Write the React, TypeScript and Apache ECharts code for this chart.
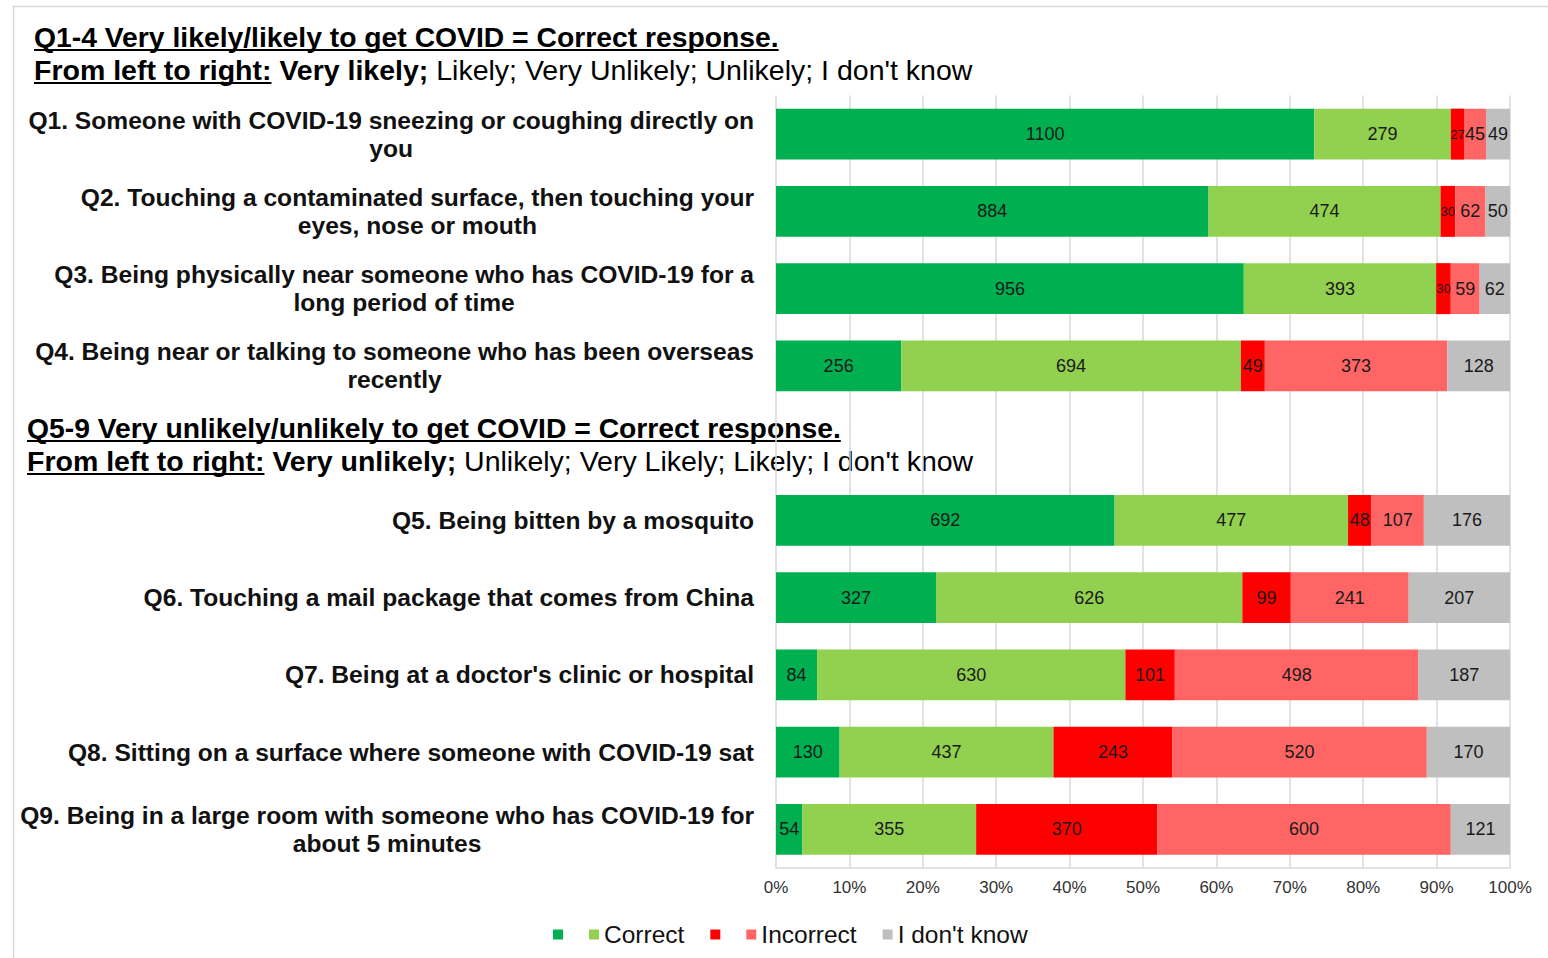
import React, { useEffect, useRef } from "react";
import * as echarts from "echarts";

const categories: string[] = [
  "Q1. Someone with COVID-19 sneezing or coughing directly on\nyou",
  "Q2. Touching a contaminated surface, then touching your\neyes, nose or mouth",
  "Q3. Being physically near someone who has COVID-19 for a\nlong period of time",
  "Q4. Being near or talking to someone who has been overseas\nrecently",
  "",
  "Q5. Being bitten by a mosquito",
  "Q6. Touching a mail package that comes from China",
  "Q7. Being at a doctor's clinic or hospital",
  "Q8. Sitting on a surface where someone with COVID-19 sat",
  "Q9. Being in a large room with someone who has COVID-19 for\nabout 5 minutes",
];

const veryCorrect = [1100, 884, 956, 256, null, 692, 327, 84, 130, 54];
const correct = [279, 474, 393, 694, null, 477, 626, 630, 437, 355];
const veryIncorrect = [27, 30, 30, 49, null, 48, 99, 101, 243, 370];
const incorrect = [45, 62, 59, 373, null, 107, 241, 498, 520, 600];
const dontKnow = [49, 50, 62, 128, null, 176, 207, 187, 170, 121];

const seriesNames = ["Very correct", "Correct", "Very incorrect", "Incorrect", "I don't know"];
const legendLabels: Record<string, string> = {
  "Very correct": "",
  Correct: "Correct",
  "Very incorrect": "",
  Incorrect: "Incorrect",
  "I don't know": "I don't know",
};
const seriesColors = ["#00B050", "#92D050", "#FF0000", "#FF6565", "#BFBFBF"];
const total = 1500;
const xTickPercents = [0, 10, 20, 30, 40, 50, 60, 70, 80, 90, 100];

const title1a = "Q1-4 Very likely/likely to get COVID = Correct response.";
const title1b = ["From left to right:", "Very likely;", "Likely; Very Unlikely; Unlikely; I don't know"];
const title2a = "Q5-9 Very unlikely/unlikely to get COVID = Correct response.";
const title2b = ["From left to right:", "Very unlikely;", "Unlikely; Very Likely; Likely; I don't know"];

const FONT = '"Liberation Sans", Arial, Helvetica, sans-serif';

let measureCtx: CanvasRenderingContext2D | null = null;
function textWidth(text: string, font: string): number {
  if (!measureCtx) measureCtx = document.createElement("canvas").getContext("2d");
  if (!measureCtx) return text.length * 10;
  measureCtx.font = font;
  return measureCtx.measureText(text).width;
}

export default function App() {
  const ref = useRef<HTMLDivElement>(null);

  useEffect(() => {
    if (!ref.current) return;
    const chart = echarts.init(ref.current, undefined, { renderer: "svg" });

    const catFontSize = 24.6;
    const catFont = `bold ${catFontSize}px ${FONT}`;
    const rich: Record<string, any> = {};
    categories.forEach((c, i) => {
      const lines = c.split("\n");
      const w = Math.max(...lines.map((l) => textWidth(l, catFont))) + 2;
      rich["c" + i] = {
        width: w,
        align: "center",
        fontSize: catFontSize,
        fontWeight: "bold",
        fontFamily: FONT,
        lineHeight: 28,
        color: "#111",
      };
    });

    const dataSets = [veryCorrect, correct, veryIncorrect, incorrect, dontKnow];
    const series = dataSets.map((arr, si) => ({
      name: seriesNames[si],
      type: "bar",
      stack: "all",
      barWidth: "66%",
      itemStyle: { color: seriesColors[si] },
      label: {
        show: true,
        position: "inside",
        color: "#1a1a1a",
        fontSize: 18,
        fontFamily: FONT,
        formatter: "{c}",
      },
      data: arr.map((v) =>
        v == null
          ? "-"
          : v < 35
          ? { value: v, label: { fontSize: 13 } }
          : { value: v }
      ),
    }));

    const t1Size = 28.3;
    const t2Size = 28.5;
    const makeTitle = (x: number, y1: number, y2: number, a: string, b: string[]) => {
      const wa = textWidth(a, `bold ${t1Size}px ${FONT}`);
      const wb = textWidth(b[0], `bold ${t2Size}px ${FONT}`);
      return [
        {
          type: "text",
          x,
          y: y1,
          style: {
            text: a,
            fontSize: t1Size,
            fontWeight: "bold",
            fontFamily: FONT,
            fill: "#000",
            verticalAlign: "middle",
          },
        },
        {
          type: "line",
          shape: { x1: x, y1: y1 + 13, x2: x + wa, y2: y1 + 13 },
          style: { stroke: "#000", lineWidth: 2 },
        },
        {
          type: "text",
          x,
          y: y2,
          style: {
            text: `{b|${b[0]}} {b|${b[1]}} {n|${b[2]}}`,
            fontSize: t2Size,
            fontFamily: FONT,
            fill: "#000",
            verticalAlign: "middle",
            rich: {
              b: { fontSize: t2Size, fontWeight: "bold", fontFamily: FONT, fill: "#000", color: "#000" },
              n: { fontSize: t2Size, fontWeight: "normal", fontFamily: FONT, fill: "#000", color: "#000" },
            },
          },
        },
        {
          type: "line",
          shape: { x1: x, y1: y2 + 13, x2: x + wb, y2: y2 + 13 },
          style: { stroke: "#000", lineWidth: 2 },
        },
      ];
    };

    const option: any = {
      animation: false,
      backgroundColor: "#fff",
      textStyle: { fontFamily: FONT },
      grid: { left: 776, right: 38, top: 95.5, bottom: 90, containLabel: false },
      legend: {
        left: 548,
        top: 917,
        icon: "rect",
        itemWidth: 10,
        itemHeight: 10,
        itemGap: 26,
        data: seriesNames,
        formatter: (name: string) => legendLabels[name],
        textStyle: { fontSize: 24.5, color: "#111", fontFamily: FONT },
      },
      xAxis: {
        type: "value",
        min: 0,
        max: total,
        interval: total / 10,
        axisLine: { show: true, lineStyle: { color: "#D9D9D9", width: 1.5 } },
        axisTick: { show: false },
        splitLine: { show: true, lineStyle: { color: "#D9D9D9", width: 1.5 } },
        axisLabel: {
          margin: 11,
          fontSize: 17,
          color: "#333",
          fontFamily: FONT,
          formatter: (v: number) => {
            const p = Math.round((v / total) * 100);
            return xTickPercents.includes(p) ? p + "%" : "";
          },
        },
      },
      yAxis: {
        type: "category",
        inverse: true,
        data: categories,
        axisLine: { show: false },
        axisTick: { show: false },
        axisLabel: {
          interval: 0,
          margin: 21,
          formatter: (value: string, index: number) => {
            if (!value) return "";
            return value
              .split("\n")
              .map((l) => `{c${index}|${l}}`)
              .join("\n");
          },
          rich,
        },
      },
      graphic: [
        {
          type: "rect",
          silent: true,
          z: -1,
          shape: { x: 13.5, y: 6.5, width: 1600, height: 1000 },
          style: { fill: "none", stroke: "#D9D9D9", lineWidth: 1.5 },
        },
        ...makeTitle(34, 37, 70, title1a, title1b),
        ...makeTitle(27, 428, 461, title2a, title2b),
      ],
      series,
    };

    chart.setOption(option);
    return () => chart.dispose();
  }, []);

  return (
    <div
      ref={ref}
      style={{ position: "fixed", left: 0, top: 0, width: 1548, height: 958 }}
    />
  );
}
